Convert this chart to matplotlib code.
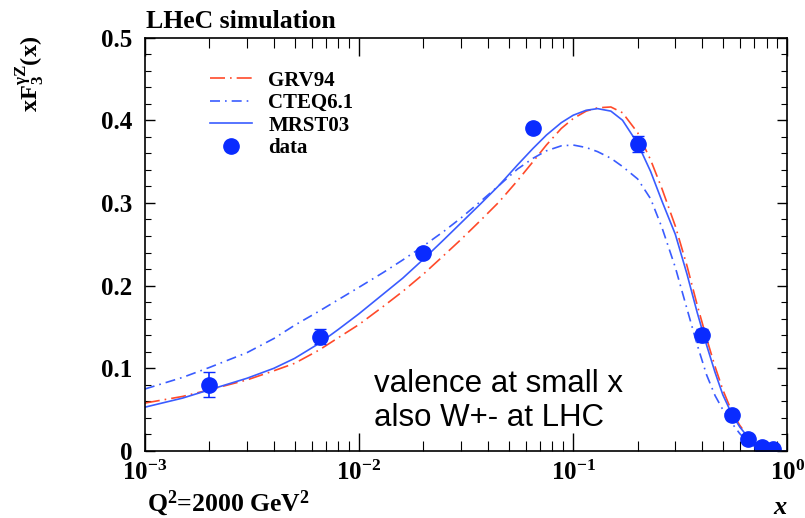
import matplotlib
matplotlib.use("Agg")
import matplotlib.pyplot as plt
from matplotlib.lines import Line2D
from matplotlib.ticker import FixedLocator, MultipleLocator, NullFormatter

plt.rcParams['font.family'] = ['Liberation Serif', 'DejaVu Serif']
plt.rcParams['font.weight'] = 'bold'
plt.rcParams['mathtext.fontset'] = 'custom'
plt.rcParams['mathtext.rm'] = 'Liberation Serif:bold'
plt.rcParams['mathtext.it'] = 'Liberation Serif:italic:bold'
plt.rcParams['mathtext.bf'] = 'Liberation Serif:bold'

# curves
x_curve = [0.001, 0.0015, 0.002, 0.003, 0.004, 0.005, 0.0065, 0.008, 0.01, 0.013,
           0.016, 0.02, 0.025, 0.03, 0.037, 0.045, 0.055, 0.065, 0.075, 0.088,
           0.1, 0.115, 0.13, 0.15, 0.17, 0.2, 0.23, 0.26, 0.3, 0.34,
           0.38, 0.42, 0.46, 0.5, 0.55, 0.6, 0.65, 0.7, 0.75, 0.8,
           0.85, 0.9, 0.95, 1.0]
grv94 = [0.058, 0.066, 0.074, 0.086, 0.097, 0.106, 0.122, 0.137, 0.153, 0.175,
         0.193, 0.214, 0.237, 0.256, 0.279, 0.301, 0.327, 0.350, 0.370, 0.390,
         0.402, 0.411, 0.415, 0.416, 0.409, 0.385, 0.352, 0.317, 0.272, 0.224,
         0.176, 0.136, 0.102, 0.074, 0.048, 0.031, 0.019, 0.011, 0.006, 0.003,
         0.0015, 0.0007, 0.0002, 0.0]
cteq61 = [0.075, 0.089, 0.101, 0.119, 0.136, 0.152, 0.169, 0.183, 0.198, 0.216,
          0.231, 0.248, 0.266, 0.282, 0.302, 0.321, 0.341, 0.354, 0.363, 0.369,
          0.370, 0.367, 0.362, 0.354, 0.344, 0.329, 0.305, 0.270, 0.222, 0.172,
          0.128, 0.092, 0.067, 0.050, 0.034, 0.021, 0.012, 0.006, 0.003, 0.0015,
          0.0007, 0.0003, 0.0001, 0.0]
mrst03 = [0.053, 0.064, 0.074, 0.088, 0.100, 0.112, 0.130, 0.147, 0.166, 0.190,
          0.209, 0.232, 0.256, 0.276, 0.299, 0.321, 0.346, 0.366, 0.382, 0.397,
          0.406, 0.412, 0.414, 0.411, 0.400, 0.372, 0.338, 0.302, 0.262, 0.214,
          0.167, 0.128, 0.095, 0.068, 0.045, 0.029, 0.018, 0.010, 0.006, 0.003,
          0.0015, 0.0007, 0.0002, 0.0]

# pseudo data
x_data = [0.002, 0.0066, 0.02, 0.065, 0.2, 0.4, 0.55, 0.655, 0.76, 0.86]
y_data = [0.080, 0.138, 0.239, 0.390, 0.371, 0.140, 0.043, 0.015, 0.005, 0.002]
y_err = [0.015, 0.009, 0.006, 0.006, 0.010, 0.008, 0.005, 0.003, 0.002, 0.001]

x_ticks = [1e-3, 1e-2, 1e-1, 1]
x_labels = ['$10^{-3}$', '$10^{-2}$', '$10^{-1}$', '$10^{0}$']
y_ticks = [0, 0.1, 0.2, 0.3, 0.4, 0.5]
y_labels = ['0', '0.1', '0.2', '0.3', '0.4', '0.5']

red = '#ff4a2a'
blue = '#3a5cff'
dot_blue = '#0a2bff'

fig = plt.figure(figsize=(8.05, 5.18), dpi=100)
ax = fig.add_axes([0.180, 0.1293, 0.798, 0.7983])

ax.plot(x_curve, grv94, color=red, lw=1.2, dashes=[9, 3, 1, 3])
ax.plot(x_curve, cteq61, color=blue, lw=1.2, dashes=[6, 3, 1, 3])
ax.plot(x_curve, mrst03, color=blue, lw=1.2)
ax.errorbar(x_data, y_data, yerr=y_err, fmt='o', color=dot_blue, ms=11,
            elinewidth=1.2, capsize=4)

ax.set_xscale('log')
ax.set_xlim(1e-3, 1)
ax.set_ylim(0, 0.5)
ax.xaxis.set_major_locator(FixedLocator(x_ticks))
ax.set_xticklabels(x_labels)
ax.xaxis.set_minor_formatter(NullFormatter())
ax.set_yticks(y_ticks)
ax.set_yticklabels(y_labels)
ax.yaxis.set_minor_locator(MultipleLocator(0.02))

ax.tick_params(which='both', direction='in', top=True, right=True)
ax.tick_params(axis='x', which='major', length=13, width=1, pad=7, labelsize=18)
ax.tick_params(axis='x', which='minor', length=7, width=0.8)
ax.tick_params(axis='y', which='major', length=7, width=1, pad=9, labelsize=18)
ax.tick_params(axis='y', which='minor', length=4, width=0.8)
for s in ax.spines.values():
    s.set_linewidth(1.2)

handles = [
    Line2D([], [], color=red, lw=1.2, dashes=[9, 3, 1, 3]),
    Line2D([], [], color=blue, lw=1.2, dashes=[6, 3, 1, 3]),
    Line2D([], [], color=blue, lw=1.2),
    Line2D([], [], ls='none', marker='o', ms=11, color=dot_blue),
]
ax.legend(handles, ['GRV94', 'CTEQ6.1', 'MRST03', 'data'],
          loc='upper left', bbox_to_anchor=(0.072, 0.965), frameon=False,
          fontsize=15, handlelength=2.0, handletextpad=0.8, labelspacing=0.12)

fig.text(0.181, 0.936, 'LHeC simulation', fontsize=18.5, ha='left', va='bottom')
fig.text(0.037, 0.93, r'$\mathrm{xF_3^{\gamma Z}(x)}$', fontsize=17.5,
         rotation=90, ha='center', va='top')
fig.text(0.182, 0.029, r'$\mathrm{Q^2}$=2000 GeV$^\mathrm{2}$', fontsize=18.5,
         ha='left', va='center')
fig.text(0.969, 0.021, 'x', fontsize=19, style='italic', ha='center', va='center')

ax.text(0.0117, 0.099, 'valence at small x\nalso W+- at LHC',
        family='Liberation Sans', fontweight='normal', fontsize=22.5,
        linespacing=1.15, ha='left', va='top')

fig.savefig('out.png', dpi=100)
